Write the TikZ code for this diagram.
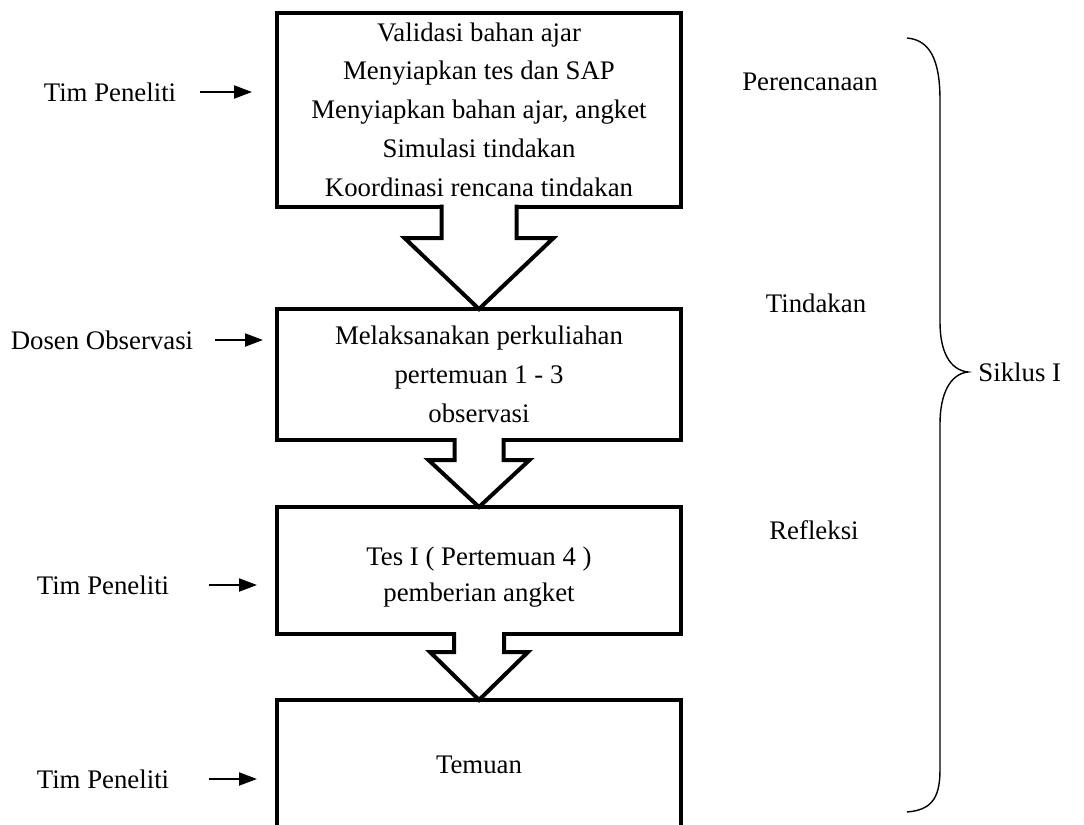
\documentclass[tikz,border=0pt]{standalone}
\usepackage{fontspec}
\setmainfont{Liberation Serif}
\usetikzlibrary{calc,arrows.meta}
\tikzset{
  box/.style={draw, line width=2pt, rectangle, minimum width=202pt, outer sep=0pt, align=center, font=\fontsize{13.4}{19.4}\selectfont},
  blockline/.style={line width=2pt, line join=miter},
  pointer/.style={-{Triangle[length=9pt,width=6.5pt]}, line width=1pt},
  label/.style={inner sep=0pt, font=\fontsize{13.4}{16}\selectfont},
}
% block arrow between two boxes: upper, lower, half shaft, half head, shaft length
\newcommand{\flowarrow}[5]{%
  \fill[white] ($(#1.south)+(-#3,-3)$) rectangle ($(#1.south)+(#3,3)$);
  \draw[blockline] ($(#1.south)+(-#3,-2)$) -- ($(#1.south)+(-#3,#5)$) -- ($(#1.south)+(-#4,#5)$)
    -- (#2.north) -- ($(#1.south)+(#4,#5)$) -- ($(#1.south)+(#3,#5)$) -- ($(#1.south)+(#3,-2)$);
}
\begin{document}
\begin{tikzpicture}[x=0.5pt, y=-0.5pt]
\useasboundingbox (0,0) rectangle (1084,825);
\clip (0,0) rectangle (1084,825);
% boxes
\node[box, minimum height=97pt] (plan) at (479,109.5) {Validasi bahan ajar\\ Menyiapkan tes dan SAP\\ Menyiapkan bahan ajar, angket\\ Simulasi tindakan\\ Koordinasi rencana tindakan};
\node[box, minimum height=65.5pt] (act) at (479,374.5) {Melaksanakan perkuliahan\\ pertemuan 1 - 3\\ observasi};
\node[box, minimum height=63.5pt] (test) at (479,570.5) {};
\node[label, align=center, font=\fontsize{13.4}{18}\selectfont] (testtext) at ($(test.center)+(0,7)$) {Tes I ( Pertemuan 4 )\\ pemberian angket};
\node[box, minimum height=65pt] (find) at (479,765) {Temuan};
% block arrows
\flowarrow{plan}{act}{37.5}{74.5}{31.5}
\flowarrow{act}{test}{24.5}{50.5}{20}
\flowarrow{test}{find}{25}{49}{18}
% labels on the left
\node[label] (team1) at (110,92) {Tim Peneliti};
\node[label] (lecturer) at (102,340) {Dosen Observasi};
\node[label] (team2) at (103,585) {Tim Peneliti};
\node[label] (team3) at (103,779) {Tim Peneliti};
\draw[pointer, shorten <=11.5pt, shorten >=12.5pt] (team1.east) -- (team1.east -| plan.west);
\draw[pointer, shorten <=10.5pt, shorten >=7pt] (lecturer.east) -- (lecturer.east -| act.west);
\draw[pointer, shorten <=19.5pt, shorten >=10pt] (team2.east) -- (team2.east -| test.west);
\draw[pointer, shorten <=19.5pt, shorten >=10pt] (team3.east) -- (team3.east -| find.west);
% phases on the right
\node[label] (phase1) at (810,82) {Perencanaan};
\node[label] (phase2) at (816,303) {Tindakan};
\node[label] (phase3) at (814,530) {Refleksi};
% brace
\draw[line width=0.7pt] (907,38) .. controls (930,40) and (940,60) .. (940,100) -- (940,322)
  .. controls (940,352) and (950,370) .. coordinate[pos=1] (tip) (968,372)
  .. controls (950,374) and (940,394) .. (940,424) -- (940,770)
  .. controls (940,800) and (930,810) .. (907,812);
\node[label, anchor=west] (cycle) at ($(tip)+(10,0)$) {Siklus I};
\end{tikzpicture}
\end{document}
